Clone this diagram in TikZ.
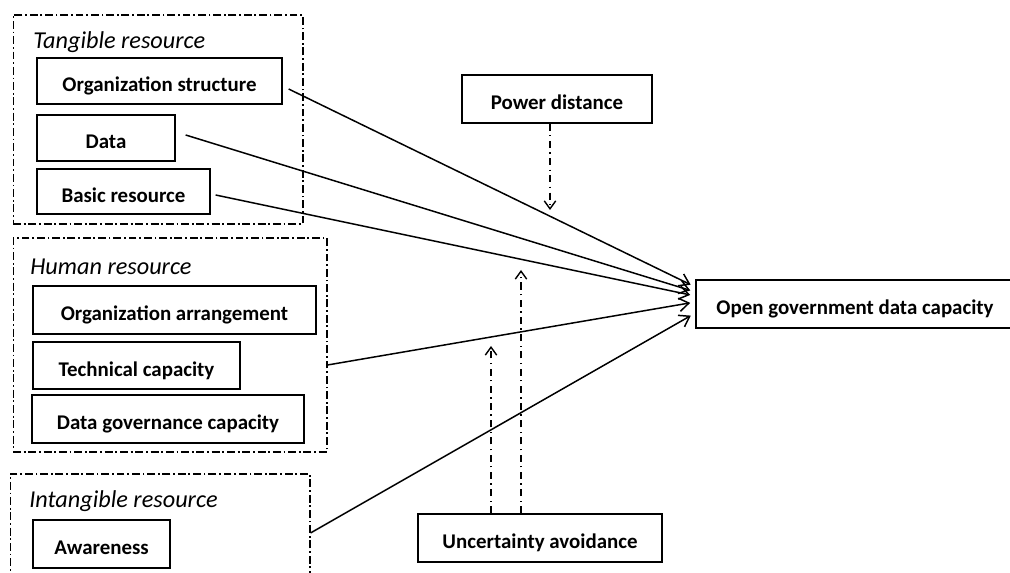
\documentclass[tikz,border=0pt]{standalone}
\usepackage{fontspec}
\setmainfont{Carlito}
\usepackage{tikz}
\usetikzlibrary{arrows.meta, positioning, calc}

\begin{document}
\begin{tikzpicture}[x=0.02cm, y=-0.02cm,
  box/.style={rectangle, draw, line width=0.75pt, inner sep=0pt,
    font=\fontsize{11.9pt}{13pt}\selectfont\bfseries,
    text height=12pt, text depth=0pt},
  grp/.style={rectangle, draw, line width=0.6pt, inner sep=0pt,
    dash pattern=on 4.5pt off 1.6pt on 1pt off 1.6pt},
  ttl/.style={anchor=base west, inner sep=0pt,
    font=\fontsize{13.8pt}{15pt}\selectfont\itshape},
  arr/.style={-{Straight Barb[length=5.5pt, width=7.5pt]}, line width=0.85pt,
    shorten >=3pt},
  marr/.style={-{Straight Barb[length=4.5pt, width=6.5pt]}, line width=0.8pt,
    dash pattern=on 4pt off 2.5pt on 0.8pt off 2.5pt}
]
\clip (0,0) rectangle (1010,573);
% groups
\node[grp, minimum width=5.8cm,  minimum height=4.18cm] at (158, 119.5) (tgrp) {};
\node[grp, minimum width=6.28cm, minimum height=4.28cm] at (170, 345)   (hgrp) {};
\node[grp, minimum width=6cm,    minimum height=2.52cm] at (160, 537)   (igrp) {};
\node[ttl] at (33, 49)  (tttl) {Tangible resource};
\node[ttl] at (30, 275) (httl) {Human resource};
\node[ttl] at (29, 508) (ittl) {Intangible resource};
% tangible
\node[box, minimum width=4.9cm,  minimum height=0.92cm] at (159.5, 81)    (orgs)  {Organization structure};
\node[box, minimum width=2.76cm, minimum height=0.92cm] at (106, 138)     (data)  {Data};
\node[box, minimum width=3.46cm, minimum height=0.9cm]  at (123.5, 191.5) (basic) {Basic resource};
% human
\node[box, minimum width=5.66cm, minimum height=0.96cm] at (174.5, 310)   (orga)  {Organization arrangement};
\node[box, minimum width=4.14cm, minimum height=0.94cm] at (136.5, 365.5) (tech)  {Technical capacity};
\node[box, minimum width=5.44cm, minimum height=0.96cm] at (168, 419)     (dgov)  {Data governance capacity};
% intangible
\node[box, minimum width=2.74cm, minimum height=0.96cm] at (101.5, 544)   (aware) {Awareness};
% moderators and outcome
\node[box, minimum width=3.8cm,  minimum height=0.96cm] at (557, 99)      (power) {Power distance};
\node[box, minimum width=4.88cm, minimum height=0.96cm] at (540, 538)     (unc)   {Uncertainty avoidance};
\node[box, minimum width=6.36cm, minimum height=0.96cm] at (855, 304)     (ogdc)  {Open government data capacity};
% direct effects
\draw[arr] ($(orgs.east)+(6,8)$)    -- ($(ogdc.west)+(0,-17)$);
\draw[arr] ($(data.east)+(10,-3)$)  -- ($(ogdc.west)+(0,-12)$);
\draw[arr] ($(basic.east)+(5,3.5)$) -- ($(ogdc.west)+(0,-8)$);
\draw[arr] ($(hgrp.east)+(0,20)$)   -- ($(ogdc.west)+(0,-2)$);
\draw[arr] ($(igrp.east)+(0,-4)$)   -- ($(ogdc.west)+(0,9)$);
% moderating effects
\coordinate (pdtip) at (550, 210);
\coordinate (ua1)   at (491, 346);
\coordinate (ua2)   at (521, 270);
\draw[marr] (power.south -| pdtip) -- (pdtip);
\draw[marr] (unc.north -| ua1) -- (ua1);
\draw[marr] (unc.north -| ua2) -- (ua2);
\end{tikzpicture}
\end{document}
